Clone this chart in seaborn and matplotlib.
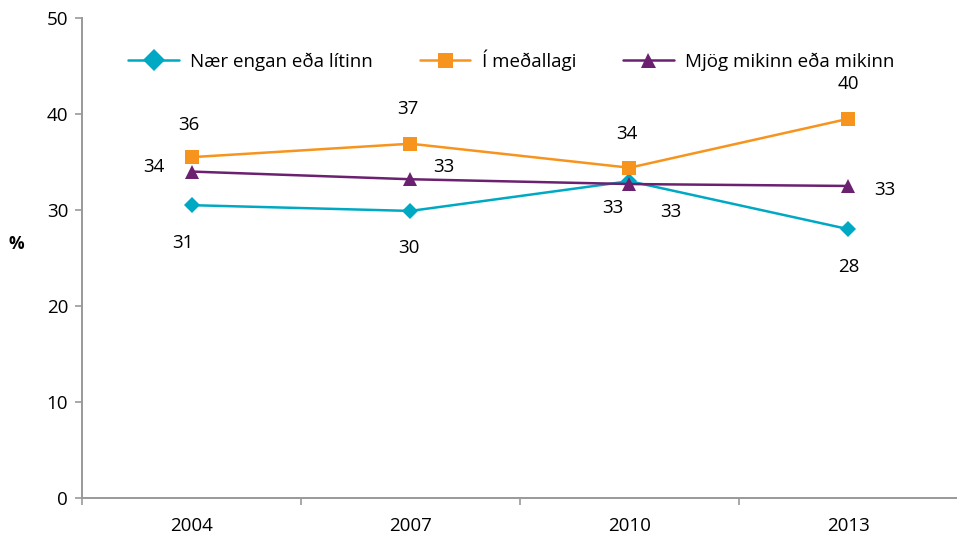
import seaborn as sns
import matplotlib.pyplot as plt
import pandas as pd

years = ['2004', '2007', '2010', '2013']
series = ['Nær engan eða lítinn', 'Í meðallagi', 'Mjög mikinn eða mikinn']
low = [30.5, 29.9, 33.0, 28.0]
mid = [35.5, 36.9, 34.4, 39.5]
high = [34.0, 33.2, 32.7, 32.5]
low_labels = ['31', '30', '33', '28']
mid_labels = ['36', '37', '34', '40']
high_labels = ['34', '33', '33', '33']

colors = ['#00A9C3', '#F7941D', '#6B2170']

df = pd.DataFrame({
    'year': years * 3,
    'value': low + mid + high,
    'series': [series[0]] * 4 + [series[1]] * 4 + [series[2]] * 4,
})

sns.set_style('white')
plt.rcParams['font.family'] = ['Open Sans', 'DejaVu Sans']
plt.rcParams['text.color'] = 'black'
plt.rcParams['xtick.labelcolor'] = 'black'
plt.rcParams['ytick.labelcolor'] = 'black'
plt.rcParams['axes.labelcolor'] = 'black'
fs = 13.5

fig = plt.figure(figsize=(9.57, 5.37), dpi=100)
ax = fig.add_axes([0.0857, 0.0726, 0.9153, 0.894])

sns.lineplot(
    data=df, x='year', y='value', hue='series', style='series',
    palette=colors, markers=['D', 's', '^'], dashes=False,
    linewidth=1.8, markersize=9, markeredgewidth=0, ax=ax
)
# diamonds slightly smaller
for line, ms in zip(ax.lines[:3], [8, 10, 10]):
    line.set_markersize(ms)

# value labels (offsets in points)
offsets = {
    0: [(-6, -27), (-1, -27), (-12, -19), (0, -27)],
    1: [(-2, 23), (-2, 25), (-2, 24), (0, 25)],
    2: [(-27, 3), (24, 9), (30, -20), (26, -3)],
}
vals = [low, mid, high]
labs = [low_labels, mid_labels, high_labels]
for s in range(3):
    for i in range(4):
        dx, dy = offsets[s][i]
        ax.annotate(labs[s][i], (i, vals[s][i]), xytext=(dx, dy),
                    textcoords='offset points', ha='center', va='center',
                    fontsize=fs, color='black')

ax.set_xlim(-0.5, 3.5)
ax.set_ylim(0, 50)
ax.set_yticks(range(0, 51, 10))
ax.set_xlabel('')
ax.set_ylabel('%', rotation=0, fontsize=fs - 1, fontweight='bold', va='center')
ax.yaxis.set_label_coords(-0.075, 0.53)

ax.set_xticks(range(4))
ax.set_xticks([-0.5, 0.5, 1.5, 2.5, 3.5], minor=True)
ax.tick_params(axis='x', which='major', bottom=True, length=0, pad=14, labelsize=fs)
ax.tick_params(axis='x', which='minor', bottom=True, length=5, color='#999999', width=1.2)
ax.tick_params(axis='y', left=True, length=5, color='#999999', width=1.2, pad=5, labelsize=fs)

for side in ['top', 'right']:
    ax.spines[side].set_visible(False)
for side in ['left', 'bottom']:
    ax.spines[side].set_color('#999999')
    ax.spines[side].set_linewidth(1.4)

ax.legend(loc='upper center', bbox_to_anchor=(0.49, 0.97), ncol=3, frameon=False,
          fontsize=fs, handlelength=2.7, columnspacing=2.5, handletextpad=0.6,
          markerscale=1.2)

fig.savefig('out.png', dpi=100)
